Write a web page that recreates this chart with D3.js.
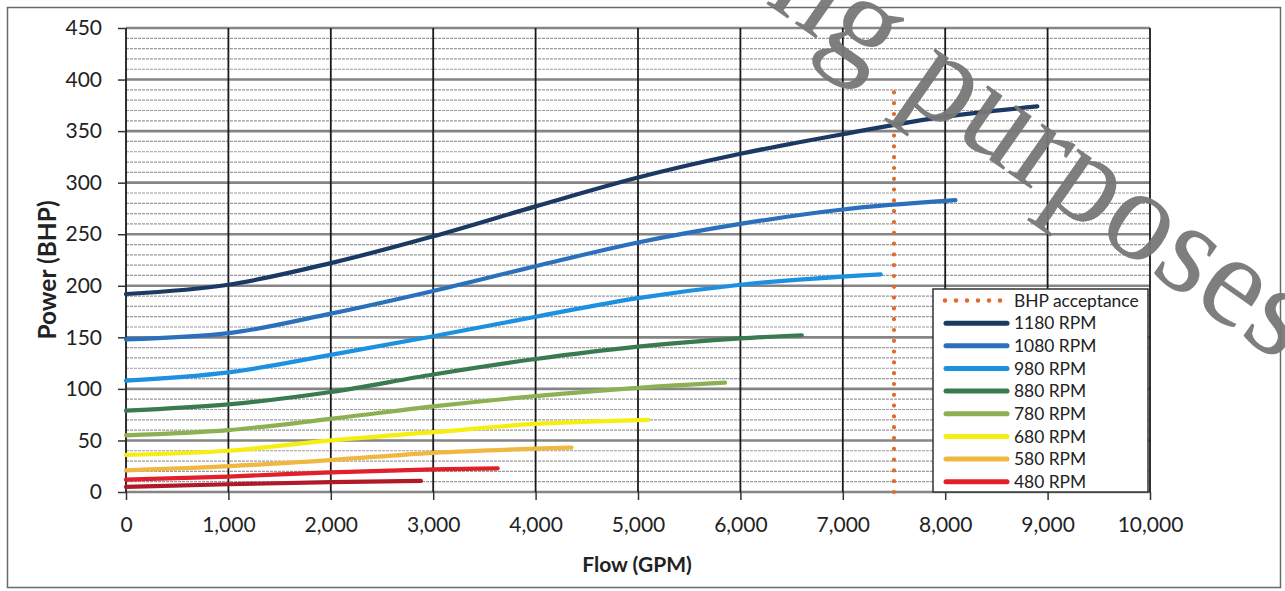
<!DOCTYPE html>
<html><head><meta charset="utf-8">
<script src="https://cdn.jsdelivr.net/npm/d3@7"></script>
<style>
html,body{margin:0;padding:0;background:#fff;}
svg{display:block;}
</style>
</head><body>
<svg id="chart" width="1285" height="591"></svg>
<script>
// ---- data ----
const flowTicks = [0,1000,2000,3000,4000,5000,6000,7000,8000,9000,10000];
const powerTicks = [0,50,100,150,200,250,300,350,400,450];
const minorPowerTicks = d3.range(0, 451, 10);
const seriesNames = ["1180 RPM","1080 RPM","980 RPM","880 RPM","780 RPM","680 RPM","580 RPM","480 RPM","380 RPM"];
const seriesColors = ["#1b3a63","#2a70bb","#1d90e0","#3a7a50","#8cb052","#f6ee10","#f0b840","#e2202c","#b01a28"];
const rpm1180 = [[0,192],[1000,201],[2000,222],[3000,248],[4000,277],[5000,305],[6000,328],[7000,347],[8000,364],[8900,374]];
const rpm1080 = [[0,148],[1000,154],[2000,173],[3000,195],[4000,219],[5000,242],[6000,260],[7000,274],[8100,283]];
const rpm980  = [[0,108],[1000,116],[2000,133],[3000,151],[4000,170],[5000,188],[6000,201],[7370,211]];
const rpm880  = [[0,79],[1000,85],[2000,97],[3000,114],[4000,129],[5000,141],[6000,149],[6600,152]];
const rpm780  = [[0,55],[1000,60],[2000,71],[3000,83],[4000,93],[5000,101],[5850,106]];
const rpm680  = [[0,36],[1000,40],[2000,50],[3000,58],[4000,66],[5100,70]];
const rpm580  = [[0,21],[1000,25],[2000,31],[3000,38],[4000,42],[4350,43]];
const rpm480  = [[0,12],[1000,15],[2000,19],[3000,22],[3630,23]];
const rpm380  = [[0,5],[1000,7.5],[2000,9.5],[2880,10.7]];
const seriesData = [rpm1180,rpm1080,rpm980,rpm880,rpm780,rpm680,rpm580,rpm480,rpm380];
const bhpAcceptance = [[7500,0],[7500,388]];
const legendNames = ["BHP acceptance","1180 RPM","1080 RPM","980 RPM","880 RPM","780 RPM","680 RPM","580 RPM","480 RPM"];

// ---- layout ----
const svg = d3.select("#chart");
const x = d3.scaleLinear().domain([0,10000]).range([126,1150]);
const y = d3.scaleLinear().domain([0,450]).range([492,28]);
const FONT = "Lato, 'Open Sans', sans-serif";

// outer frame
svg.append("rect").attr("x",7.5).attr("y",7.5).attr("width",1273).attr("height",580)
  .attr("fill","#fff").attr("stroke","#6a6a6a").attr("stroke-width",1.5);

// minor horizontal grid
svg.append("g").selectAll("line").data(minorPowerTicks.filter(v=>v%50!==0)).join("line")
  .attr("x1",x(0)).attr("x2",x(10000)).attr("y1",d=>y(d)).attr("y2",d=>y(d))
  .attr("stroke","#9a9a9a").attr("stroke-width",1.2).attr("stroke-dasharray","3,1");
// major horizontal grid
svg.append("g").selectAll("line").data(powerTicks).join("line")
  .attr("x1",x(0)).attr("x2",x(10000)).attr("y1",d=>y(d)).attr("y2",d=>y(d))
  .attr("stroke","#858585").attr("stroke-width",2.6);
// vertical grid
svg.append("g").selectAll("line").data(flowTicks).join("line")
  .attr("x1",d=>x(d)).attr("x2",d=>x(d)).attr("y1",y(0)).attr("y2",y(450))
  .attr("stroke","#1a1a1a").attr("stroke-width",1.8);

// axes
const xAxis = svg.append("g").attr("transform",`translate(0,${y(0)})`)
  .call(d3.axisBottom(x).tickValues(flowTicks).tickFormat(d3.format(",")).tickSize(8).tickPadding(17));
const yAxis = svg.append("g").attr("transform",`translate(${x(0)},0)`)
  .call(d3.axisLeft(y).tickValues(powerTicks).tickFormat(d3.format("d")).tickSize(8).tickPadding(16));
[xAxis,yAxis].forEach(a=>{
  a.select(".domain").remove();
  a.selectAll(".tick line").attr("stroke","#333").attr("stroke-width",1.5);
  a.selectAll(".tick text").attr("font-family",FONT).attr("font-size",21).attr("fill","#222");
});

// series
const line = d3.line().x(d=>x(d[0])).y(d=>y(d[1])).curve(d3.curveMonotoneX);
svg.append("g").selectAll("path").data(seriesData).join("path")
  .attr("d",line).attr("fill","none")
  .attr("stroke",(d,i)=>seriesColors[i]).attr("stroke-width",4.2).attr("stroke-linecap","round");

// BHP acceptance
svg.append("path").datum(bhpAcceptance).attr("d",d3.line().x(d=>x(d[0])).y(d=>y(d[1])))
  .attr("stroke","#e06a2a").attr("stroke-width",4.2).attr("stroke-linecap","round")
  .attr("stroke-dasharray","0,10.8").attr("fill","none");

// axis titles
svg.append("text").attr("x",637).attr("y",572).attr("text-anchor","middle")
  .attr("font-family",FONT).attr("font-weight","bold").attr("font-size",21).attr("fill","#222")
  .text("Flow (GPM)");
svg.append("text").attr("transform","translate(56,270) rotate(-90)").attr("text-anchor","middle")
  .attr("font-family",FONT).attr("font-weight","bold").attr("font-size",24.5).attr("fill","#222")
  .text("Power (BHP)");

// legend
const lg = svg.append("g");
lg.append("rect").attr("x",933).attr("y",289).attr("width",215).attr("height",203)
  .attr("fill","#fff").attr("stroke","#333").attr("stroke-width",1.5);
const rowY = i => 300.5 + i*22.65;
legendNames.forEach((name,i)=>{
  if(i===0){
    lg.append("line").attr("x1",945).attr("x2",1001).attr("y1",rowY(i)).attr("y2",rowY(i))
      .attr("stroke","#e06a2a").attr("stroke-width",4.5).attr("stroke-linecap","round").attr("stroke-dasharray","0,11");
  } else {
    lg.append("line").attr("x1",946).attr("x2",1007).attr("y1",rowY(i)).attr("y2",rowY(i))
      .attr("stroke",seriesColors[i-1]).attr("stroke-width",5).attr("stroke-linecap","round");
  }
  lg.append("text").attr("x",1014).attr("y",rowY(i)).attr("dy","0.36em")
    .attr("font-family",FONT).attr("font-size",17.4).attr("fill","#222").text(name);
});

// watermark
svg.append("text").attr("transform","translate(764,2) rotate(35)")
  .attr("font-family","'Liberation Serif', serif").attr("font-size",131)
  .attr("fill","#777").attr("fill-opacity",0.95).text("ng purposes");
</script>
</body></html>
